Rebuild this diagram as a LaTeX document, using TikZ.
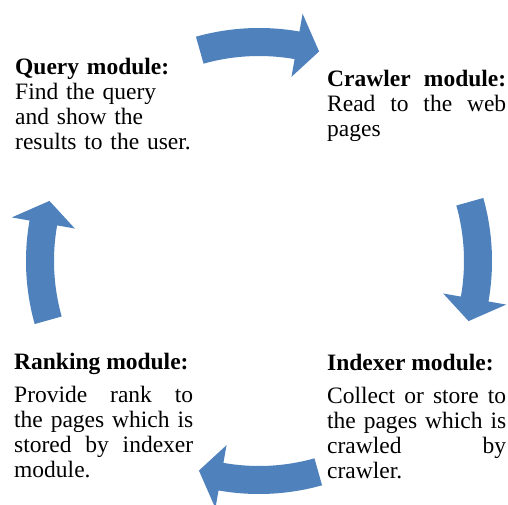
\documentclass[tikz,border=0pt]{standalone}
\usepackage{fontspec}
\setmainfont{Liberation Serif}

\definecolor{arrowblue}{RGB}{79,129,189}
\tikzset{
  modtext/.style={anchor=base west, inner sep=0pt, text width=179pt,
    font=\fontsize{23.5}{25}\selectfont},
  cyclearrow/.style={fill=arrowblue, draw=none},
}

\begin{document}
\begin{tikzpicture}[x=1pt,y=1pt]
	\useasboundingbox (0,0) rectangle (508,504);
	\coordinate (hub) at (259,243);
	% curved arrows round the hub
	\foreach \r in {0,90,180,270}{
	  \fill [cyclearrow, shift={(hub)}] ({105.7-\r}:233) arc [start angle={105.7-\r}, end angle={80-\r}, radius=233]
	    -- ({80-\r}:251) -- ({74-\r}:218) -- ({80-\r}:187) -- ({80-\r}:205)
	    arc [start angle={80-\r}, end angle={105.7-\r}, radius=205] -- cycle;
	}
	\node (query) [modtext, align=left] at (15,429) {\textbf{Query module:}\\Find the query\\and show the\\results to the user.};
	\node (crawler) [modtext, align=justify] at (327,417) {\textbf{Crawler module:}\linebreak Read to the web\linebreak pages};
	\node (indexer) [modtext, align=justify] at (327,134) {\textbf{Indexer module:}\par\vspace{8pt}Collect or store to\linebreak the pages which is\linebreak crawled by\linebreak crawler.};
	\node (ranking) [modtext, align=justify] at (14,135) {\textbf{Ranking module:}\par\vspace{8pt}Provide rank to\linebreak the pages which is\linebreak stored by indexer\linebreak module.};
\end{tikzpicture}
\end{document}
